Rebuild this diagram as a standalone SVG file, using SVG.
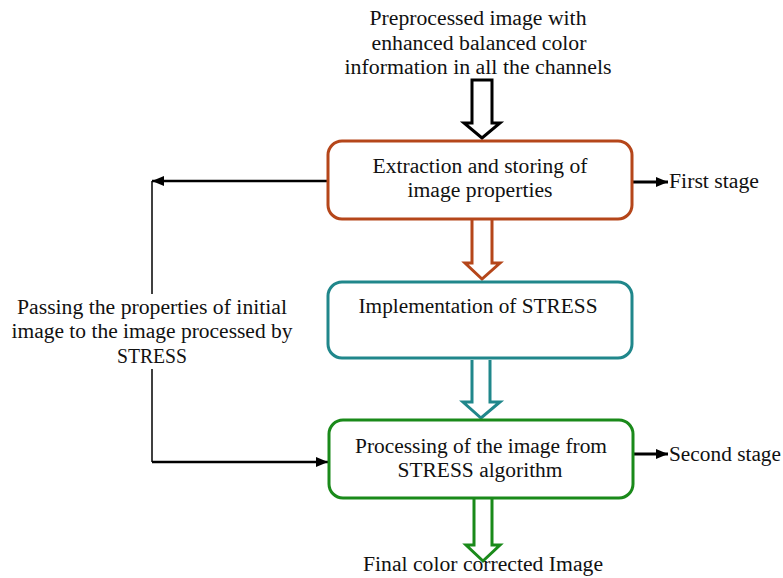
<svg xmlns="http://www.w3.org/2000/svg" width="783" height="578" viewBox="0 0 783 578">
<style>
text{font-family:"Liberation Serif","DejaVu Serif",serif;font-size:20px;fill:#111;text-anchor:middle}
.lt{text-anchor:start}
.box{fill:#fff;stroke-width:3}
.bigarrow{fill:#fff;stroke-width:3;stroke-linejoin:miter}
.line{stroke:#000;fill:none}
</style>
<defs>
<marker id="ah" viewBox="0 0 12 10" refX="12" refY="5" markerWidth="12" markerHeight="10" markerUnits="userSpaceOnUse" orient="auto">
<path d="M0,0 L12,5 L0,10 Z" fill="#000"/>
</marker>
</defs>
<rect width="783" height="578" fill="#fff"/>
<g id="input-label">
<text x="478" y="25" textLength="217" lengthAdjust="spacingAndGlyphs">Preprocessed image with</text>
<text x="479" y="50" textLength="215" lengthAdjust="spacingAndGlyphs">enhanced balanced color</text>
<text x="478" y="74" textLength="267" lengthAdjust="spacingAndGlyphs">information in all the channels</text>
</g>
<g id="connectors">
<path class="bigarrow" stroke="#000" d="M472,80 H492 V123 H500 L482,138 L464,123 H472 Z"/>
<path class="bigarrow" stroke="#b5461a" d="M472,220 V263 H465 L482,279 L500,263 H492 V220"/>
<path class="bigarrow" stroke="#20878b" d="M472,360 V402 H463 L481,418 L500,402 H490 V360"/>
<path class="bigarrow" stroke="#1a8a1a" d="M474,498 V545 H466 L483,561 L500,545 H492 V498"/>
<path class="line" stroke-width="2.5" d="M327,181 H152" marker-end="url(#ah)"/>
<path class="line" stroke-width="1.5" d="M152,181 V294"/>
<path class="line" stroke-width="1.5" d="M152,369 V462"/>
<path class="line" stroke-width="2.5" d="M152,462 H328" marker-end="url(#ah)"/>
<path class="line" stroke-width="3" d="M632,182 H668" marker-end="url(#ah)"/>
<path class="line" stroke-width="3" d="M634,454 H668" marker-end="url(#ah)"/>
</g>
<g id="extraction">
<rect class="box" x="328" y="141" width="304" height="78" rx="14" stroke="#b5461a"/>
<text x="480" y="173" textLength="215" lengthAdjust="spacingAndGlyphs">Extraction and storing of</text>
<text x="480" y="197" textLength="145" lengthAdjust="spacingAndGlyphs">image properties</text>
</g>
<g id="stress">
<rect class="box" x="328" y="282" width="304" height="76" rx="14" stroke="#20878b"/>
<text x="478" y="313" textLength="239" lengthAdjust="spacingAndGlyphs">Implementation of STRESS</text>
</g>
<g id="processing">
<rect class="box" x="329" y="420" width="304" height="78" rx="14" stroke="#1a8a1a"/>
<text x="481" y="453" textLength="252" lengthAdjust="spacingAndGlyphs">Processing of the image from</text>
<text x="480" y="477" textLength="165" lengthAdjust="spacingAndGlyphs">STRESS algorithm</text>
</g>
<g id="output-label">
<text x="483" y="571" textLength="240" lengthAdjust="spacingAndGlyphs">Final color corrected Image</text>
</g>
<g id="feedback-label">
<text x="152" y="314" textLength="270" lengthAdjust="spacingAndGlyphs">Passing the properties of initial</text>
<text x="152" y="338" textLength="281" lengthAdjust="spacingAndGlyphs">image to the image processed by</text>
<text x="152" y="363" textLength="70" lengthAdjust="spacingAndGlyphs">STRESS</text>
</g>
<g id="first-stage">
<text class="lt" x="669" y="188" textLength="90" lengthAdjust="spacingAndGlyphs">First stage</text>
</g>
<g id="second-stage">
<text class="lt" x="669" y="461" textLength="112" lengthAdjust="spacingAndGlyphs">Second stage</text>
</g>
</svg>
